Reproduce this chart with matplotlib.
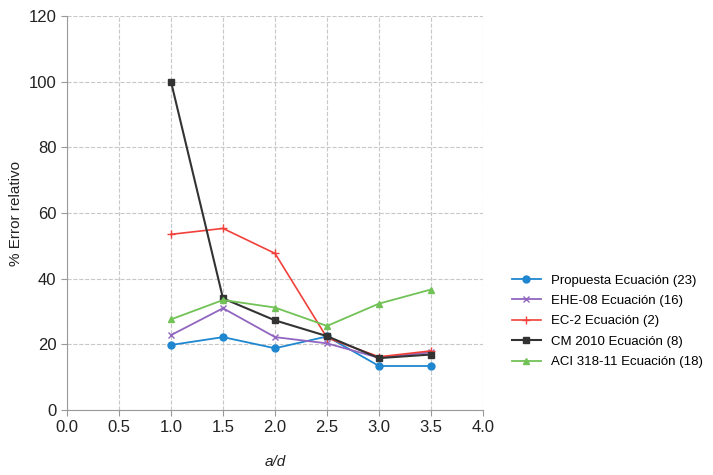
import matplotlib.pyplot as plt

x = [1.0, 1.5, 2.0, 2.5, 3.0, 3.5]

propuesta = [19.8, 22.2, 18.8, 22.4, 13.4, 13.4]
ehe08 = [22.8, 31.0, 22.2, 20.3, 15.9, 17.6]
ec2 = [53.5, 55.3, 47.7, 22.0, 16.2, 18.0]
cm2010 = [100.0, 34.0, 27.3, 22.5, 15.8, 16.9]
aci = [27.6, 33.5, 31.2, 25.6, 32.4, 36.7]

labels = ['Propuesta Ecuación (23)', 'EHE-08 Ecuación (16)', 'EC-2 Ecuación (2)',
          'CM 2010 Ecuación (8)', 'ACI 318-11 Ecuación (18)']

plt.rcParams['font.family'] = ['Liberation Sans', 'DejaVu Sans']

fig = plt.figure(figsize=(7.13, 4.75), dpi=100)
ax = fig.add_axes([67/713, 65/475, 416/713, 394/475])

ax.plot(x, propuesta, color='#1f87d0', marker='o', markersize=5, linewidth=1.3, label=labels[0])
ax.plot(x, ehe08, color='#9166c0', marker='x', markersize=5, linewidth=1.3, label=labels[1])
ax.plot(x, ec2, color='#f0413a', marker='+', markersize=6, linewidth=1.2, label=labels[2])
ax.plot(x, cm2010, color='#333333', marker='s', markersize=5, linewidth=1.5, label=labels[3])
ax.plot(x, aci, color='#72c257', marker='^', markersize=5, linewidth=1.3, label=labels[4])

ax.set_xlim(0, 4.0)
ax.set_ylim(0, 120)
ax.set_xticks([0.0, 0.5, 1.0, 1.5, 2.0, 2.5, 3.0, 3.5, 4.0])
ax.set_xticklabels(['0.0', '0.5', '1.0', '1.5', '2.0', '2.5', '3.0', '3.5', '4.0'])
ax.set_yticks(range(0, 121, 20))
ax.grid(True, color='#c8c8c8', linestyle='--', linewidth=0.8)
ax.set_axisbelow(True)
for s in ['top', 'right']:
    ax.spines[s].set_visible(False)
for s in ['left', 'bottom']:
    ax.spines[s].set_color('#999999')
ax.tick_params(colors='#999999', labelcolor='#222222', labelsize=12, length=4)

ax.set_ylabel('% Error relativo', fontsize=11, color='#222222')
ax.set_xlabel('a/d', fontsize=11, style='italic', color='#222222', labelpad=14)

ax.legend(loc='center left', bbox_to_anchor=(1.04, 0.225), frameon=False, fontsize=9.5,
          handlelength=2.2, labelspacing=0.62)

fig.savefig('out.png', dpi=100)
